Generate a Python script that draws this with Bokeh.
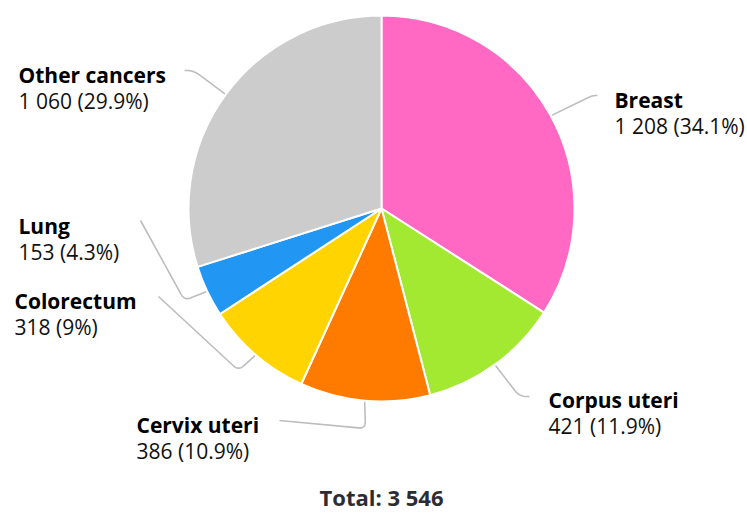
import numpy as np
from bokeh.plotting import figure
from bokeh.models import Range1d, ColumnDataSource
from bokeh.core.properties import value
from bokeh.embed import file_html
from bokeh.resources import INLINE

# ---- data ----
categories = ["Breast", "Corpus uteri", "Cervix uteri", "Colorectum", "Lung", "Other cancers"]
counts = [1208, 421, 386, 318, 153, 1060]
value_labels = ["1 208 (34.1%)", "421 (11.9%)", "386 (10.9%)", "318 (9%)", "153 (4.3%)", "1 060 (29.9%)"]
total_label = "Total: 3 546"

# ---- style / layout ----
colors = ["#ff69c4", "#a3e831", "#ff7b00", "#ffd400", "#2196f3", "#cccccc"]
W, H = 747, 513
OFF = 0
TXT_SHIFT = 8  # compensate text baseline rendering


def sy(y_screen):
    return 513 - y_screen


# label anchor (left x, name baseline) in screen px
label_pos = [(614, 107), (548, 407), (136, 432), (14, 308), (18, 233), (18, 82)]
# connector corner and end points in screen px
conn_corner = [(592, 95), (519, 396), (365, 428), (238, 370), (184, 300), (193, 70)]
conn_end = [(597, 95), (529, 396), (279, 420), (158, 296), (140, 220), (184, 70)]

cx, cy, R = 381, sy(208), 193

vals = np.array(counts, dtype=float)
frac = vals / vals.sum()
cum_end = np.cumsum(frac)
cum_start = cum_end - frac
start_ang = np.pi / 2 - 2 * np.pi * cum_start
end_ang = np.pi / 2 - 2 * np.pi * cum_end
mid_ang = (start_ang + end_ang) / 2

p = figure(width=W, height=H, output_backend="svg", toolbar_location=None,
           x_range=Range1d(OFF, OFF + W), y_range=Range1d(sy(OFF + H), sy(OFF)),
           min_border=0, outline_line_color=None)
p.axis.visible = False
p.grid.visible = False
p.background_fill_color = "white"

src = ColumnDataSource(dict(start=start_ang, end=end_ang, color=colors))
p.wedge(x=cx, y=cy, radius=R, start_angle="start", end_angle="end", direction="clock",
        fill_color="color", line_color="white", line_width=2, source=src)

# connectors: edge -> rounded corner -> end
xs_all, ys_all = [], []
for i in range(len(categories)):
    ex = cx + (R + 1) * np.cos(mid_ang[i])
    ey = cy + (R + 1) * np.sin(mid_ang[i])
    kx, ky = conn_corner[i][0], sy(conn_corner[i][1])
    tx, ty = conn_end[i][0], sy(conn_end[i][1])
    d1 = np.hypot(kx - ex, ky - ey)
    d2 = np.hypot(tx - kx, ty - ky)
    rr = min(7.0, d1 * 0.5, d2 * 0.8)
    ax_ = kx + (ex - kx) / d1 * rr
    ay_ = ky + (ey - ky) / d1 * rr
    bx_ = kx + (tx - kx) / d2 * rr if d2 > 0 else kx
    by_ = ky + (ty - ky) / d2 * rr if d2 > 0 else ky
    t = np.linspace(0, 1, 12)
    qx = (1 - t) ** 2 * ax_ + 2 * (1 - t) * t * kx + t ** 2 * bx_
    qy = (1 - t) ** 2 * ay_ + 2 * (1 - t) * t * ky + t ** 2 * by_
    xs_all.append([ex] + list(qx) + [tx])
    ys_all.append([ey] + list(qy) + [ty])
p.multi_line(xs=xs_all, ys=ys_all, line_color="#bdbdbd", line_width=1.6)

FONT = value("Open Sans")
lx = [q[0] for q in label_pos]
ly_name = [sy(q[1] - TXT_SHIFT) for q in label_pos]
ly_val = [sy(q[1] + 26 - TXT_SHIFT) for q in label_pos]
p.text(x=lx, y=ly_name, text=categories, text_font=FONT, text_font_size="21px",
       text_font_style="bold", text_color="#000000", text_baseline="alphabetic", text_align="left")
p.text(x=lx, y=ly_val, text=value_labels, text_font=FONT, text_font_size="21px",
       text_color="#111111", text_baseline="alphabetic", text_align="left")

p.text(x=[381], y=[sy(504 - TXT_SHIFT)], text=[total_label], text_font=FONT, text_font_size="22px",
       text_font_style="bold", text_color="#2b2d33", text_baseline="alphabetic", text_align="center")

open("out.html", "w").write(file_html(p, INLINE))
